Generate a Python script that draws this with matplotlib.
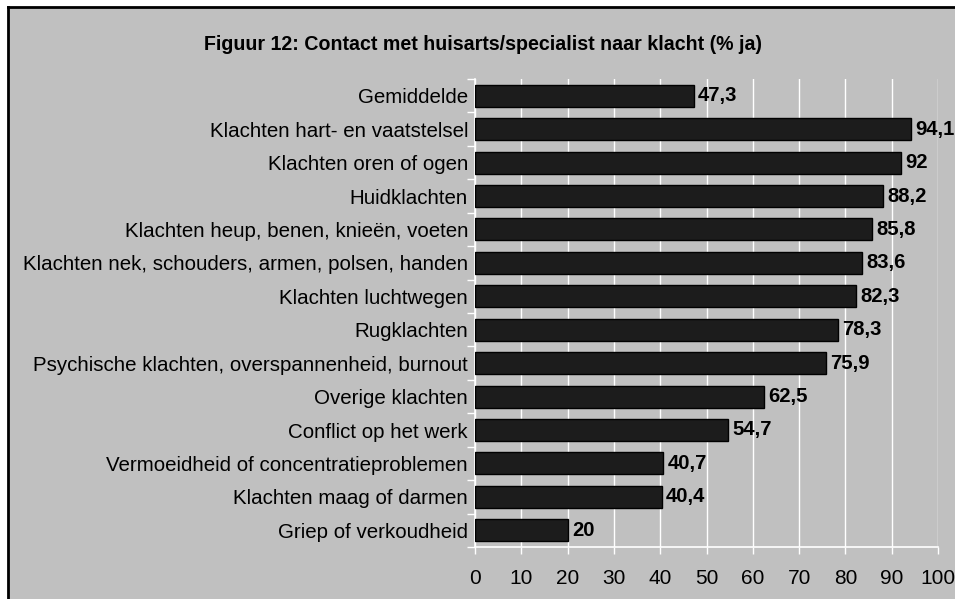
import matplotlib.pyplot as plt
from matplotlib.lines import Line2D

plt.rcParams['font.family'] = ['Liberation Sans', 'DejaVu Sans']

# data, top to bottom
categories = ['Gemiddelde', 'Klachten hart- en vaatstelsel', 'Klachten oren of ogen',
              'Huidklachten', 'Klachten heup, benen, knieën, voeten',
              'Klachten nek, schouders, armen, polsen, handen', 'Klachten luchtwegen',
              'Rugklachten', 'Psychische klachten, overspannenheid, burnout',
              'Overige klachten', 'Conflict op het werk',
              'Vermoeidheid of concentratieproblemen', 'Klachten maag of darmen',
              'Griep of verkoudheid']
values = [47.3, 94.1, 92, 88.2, 85.8, 83.6, 82.3, 78.3, 75.9, 62.5, 54.7, 40.7, 40.4, 20]
xticks = list(range(0, 101, 10))

bg = '#c0c0c0'
fig = plt.figure(figsize=(9.55, 5.99), dpi=100, facecolor=bg)
ax = fig.add_axes([475/955, 1-547/599, (938-475)/955, (547-79)/599])
ax.set_facecolor(bg)

n = len(categories)
ypos = list(range(n))
ax.barh(ypos, values, height=0.66, color='#1c1c1c', edgecolor='black', linewidth=1, zorder=3)
for y, v in zip(ypos, values):
    lbl = ('%g' % v).replace('.', ',')
    ax.text(v + 0.9, y, lbl, va='center', ha='left', fontsize=14.6, fontweight='bold', zorder=4)

ax.set_ylim(n - 0.5, -0.5)
ax.set_xlim(0, 100)
ax.set_xticks(xticks)
ax.set_yticks(ypos)
ax.set_yticklabels(categories, fontsize=14.8)
ax.set_xticklabels([str(t) for t in xticks], fontsize=15)
ax.tick_params(axis='y', length=0, pad=5)
ax.tick_params(axis='x', color='white', length=5, width=1, pad=11)
# category boundary ticks on the y axis
ax.set_yticks([i - 0.5 for i in range(n + 1)], minor=True)
ax.tick_params(axis='y', which='minor', color='white', length=6, width=1)

ax.grid(axis='x', color='white', linewidth=1, zorder=1)
for s in ['top', 'right']:
    ax.spines[s].set_visible(False)
for s in ['left', 'bottom']:
    ax.spines[s].set_color('white')
    ax.spines[s].set_linewidth(1.2)

fig.text(483/955, 1-44/599, 'Figuur 12: Contact met huisarts/specialist naar klacht (% ja)',
         ha='center', va='center', fontsize=14.1, fontweight='bold')

# frame lines (chart is cropped at right and bottom)
fig.add_artist(Line2D([8/955, 8/955], [0, 1-7/599], color='black', linewidth=2, transform=fig.transFigure))
fig.add_artist(Line2D([8/955, 1], [1-7/599, 1-7/599], color='black', linewidth=2, transform=fig.transFigure))
fig.patches.append(plt.Rectangle((0, 1-6/599), 1, 6/599, color='white', transform=fig.transFigure, figure=fig))
fig.patches.append(plt.Rectangle((0, 0), 7/955, 1, color='white', transform=fig.transFigure, figure=fig))

fig.savefig('out.png', dpi=100, facecolor=bg)
